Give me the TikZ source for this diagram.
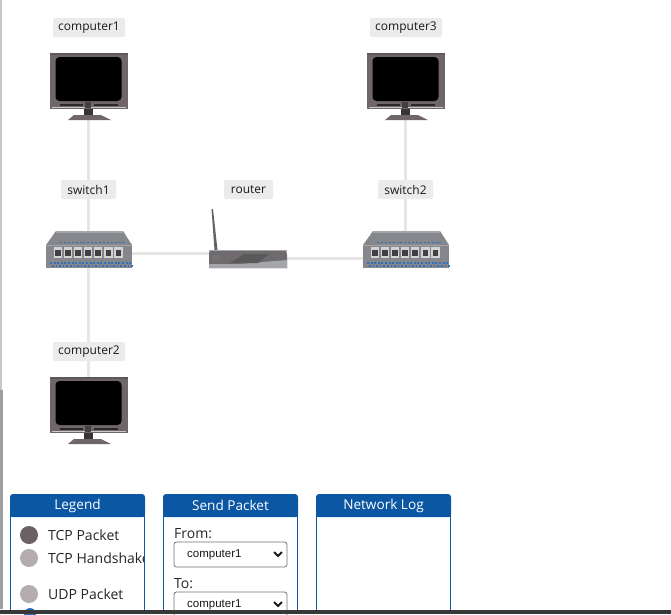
\documentclass[tikz,border=0pt]{standalone}
\usepackage{fontspec}
\setmainfont{Open Sans}
\newfontfamily\selfont{Liberation Sans}
\usetikzlibrary{calc}
\definecolor{linkc}{HTML}{E6E6E6}
\definecolor{tagc}{HTML}{EBEBEB}
\definecolor{bezel}{HTML}{6F6668}
\definecolor{cardc}{HTML}{0B57A4}
\definecolor{swc}{HTML}{85878C}
\definecolor{swd}{HTML}{5F6268}
\definecolor{swl}{HTML}{A4A6AA}
\definecolor{dotc}{HTML}{2F6FC0}
\definecolor{rtc}{HTML}{6E6A6E}
\definecolor{tcpc}{HTML}{6B6163}
\definecolor{hsc}{HTML}{B5ACAE}
\tikzset{
  x=1pt,y=-1pt,
  iconbox/.style={inner sep=0pt,minimum width=#1,minimum height=20pt},
  tag/.style={fill=tagc,rounded corners=2pt,font=\fontsize{12}{12}\selectfont,text=black!90,inner sep=0pt,minimum height=19pt},
  link/.style={draw=linkc,line width=3pt},
  cardhead/.style={fill=cardc,rounded corners=3pt},
  cardbody/.style={draw=cardc,line width=1pt},
  headtext/.style={text=white,font=\fontsize{13.6}{14}\selectfont,inner sep=0pt},
  bodytext/.style={text=black!85,font=\fontsize{14}{14}\selectfont,inner sep=0pt,anchor=west},
  selbox/.style={draw=black!55,fill=white,rounded corners=2.5pt,line width=.8pt,minimum width=113pt,minimum height=25pt,inner sep=0pt},
  seltext/.style={font=\selfont\fontsize{11.5}{12}\selectfont,text=black!90,inner sep=0pt,anchor=west},
  chev/.style={draw=black!90,line width=1.8pt},
  dot/.style={circle,inner sep=0pt,minimum size=18pt},
  computer/.pic={
    \fill[bezel] (-38,-27) rectangle (40,29);
    \fill[black!15!bezel] (-38,-27) rectangle (40,-25);
    \fill[black,rounded corners=4pt] (-32.5,-23) rectangle (33.5,21);
    \fill[black!60!bezel] (6,24) rectangle (30,26);
    \fill[black!60!bezel] (-28,24) rectangle (-5,26);
    \fill[swl!60!white] (-36,27) rectangle (38,28);
    \fill[black!75] (-3,22) rectangle (3,28);
    \fill[black!50!bezel] (-4,29) rectangle (5,36);
    \fill[bezel] (-14,35) -- (13,35) -- (23,40) -- (-20,40) -- cycle;
  },
  switchicon/.pic={
    \fill[swc] (-32,-22) -- (35,-22) -- (44,-8) -- (-42,-8) -- cycle;
    \fill[swl] (-32,-22) rectangle (35,-20);
    \fill[swc] (-42,-8) rectangle (44,15);
    \fill[swl] (-42,-8) rectangle (44,-7);
    \foreach \i in {0,...,6} {
      \fill[swl!50!white] ({-34.5+10.1*\i},-6) rectangle ({-26+10.1*\i},5);
      \fill[black!75] ({-33+10.1*\i},-3) rectangle ({-27.5+10.1*\i},3);
    }
    \foreach \i in {0,...,22} {
      \fill[dotc] ({-38+3.6*\i},9) rectangle ++(2,2);
      \fill[dotc] ({-36+3.6*\i},12) rectangle ++(1.6,1.6);
    }
    \foreach \i in {0,...,16} \fill[dotc] ({-28+3.9*\i},-11.5) rectangle ++(2,1.7);
  },
  routericon/.pic={
    \fill[swd] (-36.5,-44) -- (-35,-44) -- (-30.5,-3) -- (-33.5,-3) -- cycle;
    \fill[rtc] (-38,-3) -- (38,-3) -- (39,2) -- (39,15) -- (-39,15) -- (-39,0) -- cycle;
    \fill[swl] (-39,11) -- (-20,11) -- (-8,11) -- (39,7) -- (39,15) -- (-39,15) -- cycle;
    \fill[black!55] (-36,2) rectangle (-28,7);
    \fill[black!65] (-18,10) -- (-4,1) -- (21,1) -- (10,10) -- cycle;
    \fill[swl] (-39,-3) rectangle (39,-2);
  }
}
\begin{document}
\begin{tikzpicture}
\useasboundingbox (0,0) rectangle (671,614);
\fill[white] (0,0) rectangle (671,614);
\fill[black!22] (0,0) rectangle (1.5,390);
\fill[black!38] (0,390) rectangle (2.5,609);

% anchor nodes for the network
\node[iconbox=78pt] (c1) at (88,80) {};
\node[iconbox=78pt] (c2) at (88,404) {};
\node[iconbox=78pt] (c3) at (405,80) {};
\node[iconbox=86pt] (s1) at (88,253) {};
\node[iconbox=86pt] (s2) at (405,253) {};
\node[iconbox=78pt] (r) at (248,253) {};

\draw[link] (c1.center) -- (s1.center);
\draw[link] (s1.center) -- (c2.center);
\draw[link] (c3.center) -- (s2.center);
\draw[link] (s1.center) -- (r.center);
\draw[link] ([yshift=-5pt]r.center) -- ([yshift=-5pt]s2.center);

\pic at (c1.center) {computer};
\pic at (c2.center) {computer};
\pic at (c3.center) {computer};
\pic at (s1.center) {switchicon};
\pic at (s2.center) {switchicon};
\pic at (r.center) {routericon};

\node[tag,minimum width=72pt] (t1) at (89,27.5) {\raisebox{-1pt}{computer1}};
\node[tag,minimum width=72pt] (t2) at (89,351.5) {\raisebox{-1pt}{computer2}};
\node[tag,minimum width=72pt] (t3) at (406,27.5) {\raisebox{-1pt}{computer3}};
\node[tag,minimum width=55pt] (t4) at (88.5,189.5) {\raisebox{-1pt}{switch1}};
\node[tag,minimum width=49pt] (t5) at (248.5,189.5) {\raisebox{-1pt}{router}};
\node[tag,minimum width=55pt] (t6) at (405.5,189.5) {\raisebox{-1pt}{switch2}};

% cards
\foreach \x/\n/\t in {10/a/Legend,163/b/Send Packet,316/c/Network Log} {
  \draw[cardbody] (\x+.5,510) -- (\x+.5,612) (\x+134.5,510) -- (\x+134.5,612);
  \fill[cardhead] (\x,494) rectangle (\x+135,517);
  \fill[cardc] (\x,505) rectangle (\x+135,517);
  \node[headtext] (h\n) at (\x+67.5,505.5) {\t};
}

\node[dot,fill=tcpc] (d1) at (29,535) {};
\node[dot,fill=hsc] (d2) at (29,558) {};
\node[dot,fill=hsc] (d3) at (29,594) {};
\node[bodytext] (l1) at (48,535) {TCP Packet};
\begin{scope}
\clip (40,545) rectangle (143.5,570);
\node[bodytext] (l2) at (48,558) {TCP Handshake};
\end{scope}
\node[bodytext] (l3) at (48,594) {UDP Packet};
\node[circle,fill=dotc,inner sep=0pt,minimum size=12pt] (d4) at (30,614) {};

\node[bodytext] (f) at (174,534) {From:};
\node[selbox] (s) at (230.5,554.5) {};
\node[seltext] (st) at (187,554.5) {computer1};
\draw[chev] (274,552) -- (278,556) -- (282,552);
\node[bodytext] (to) at (174,584) {To:};
\node[selbox] (u) at (230.5,604.5) {};
\node[seltext] (ut) at (187,604.5) {computer1};
\draw[chev] (274,602) -- (278,606) -- (282,602);

\fill[black!78] (0,609.5) rectangle (671,614);
\end{tikzpicture}
\end{document}
